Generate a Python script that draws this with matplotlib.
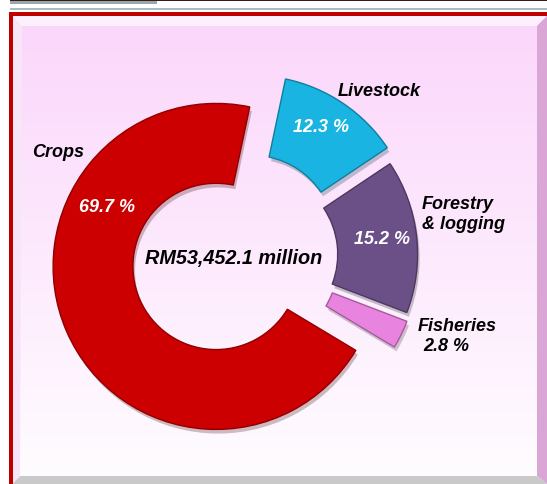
import matplotlib
matplotlib.use("Agg")
import matplotlib.pyplot as plt
import matplotlib.patheffects as pe
from matplotlib.patches import Rectangle, Polygon
import numpy as np

# data
sectors = ["Crops", "Livestock", "Forestry\n& logging", "Fisheries"]
shares = [69.7, 12.3, 15.2, 2.8]
share_labels = ["69.7 %", "12.3 %", "15.2 %", "2.8 %"]
colors = ["#cc0000", "#19b4e2", "#6b5088", "#e884df"]
explode = [0.16, 0.13, 0.09, 0.10]
total_label = "RM53,452.1 million"

W, H = 547, 485
fig = plt.figure(figsize=(W / 100, H / 100), dpi=100)
fig.patch.set_facecolor("white")

# background axes in pixel units
bg = fig.add_axes([0, 0, 1, 1], zorder=0)
bg.set_xlim(0, W)
bg.set_ylim(H, 0)
bg.axis("off")

# header strip
bg.add_patch(Rectangle((10, 0), W - 10, 2, color="#3a1a1a", lw=0))
bg.add_patch(Rectangle((10, 2), 147, 3, color="#9aa8ac", lw=0))
bg.add_patch(Rectangle((10, 8.5), W - 10, 2.5, color="#a9bcc2", lw=0))

# pink panel with vertical gradient
grad = np.linspace(0, 1, 256)[:, None]
top = np.array([251, 214, 251]) / 255
bot = np.array([255, 253, 255]) / 255
img = top[None, None, :] * (1 - grad[..., None]) + bot[None, None, :] * grad[..., None]
bg.imshow(img, extent=(12, W, H, 17), aspect="auto", zorder=0)

# bevels
bg.add_patch(Polygon([(12, 17), (W, 17), (W - 10, 27), (22, 27)], color="#fdf0fd", lw=0, zorder=1))
bg.add_patch(Polygon([(W, 17), (W, H), (W - 10, H - 8), (W - 10, 27)], color="#d9a6d6", lw=0, zorder=1))
bg.add_patch(Polygon([(12, H), (W, H), (W - 10, H - 8), (20, H - 8)], color="#c9c9c9", lw=0, zorder=1))
bg.add_patch(Polygon([(12, 17), (22, 27), (20, H - 8), (12, H)], color="#f7e6f7", lw=0, zorder=1))

# red frame
bg.add_patch(Rectangle((8.5, 12.5), 4, H - 12.5, color="#c00000", lw=0, zorder=2))
bg.add_patch(Rectangle((8.5, 12.5), W - 8.5, 4, color="#c00000", lw=0, zorder=2))

# donut axes centred at pixel (240, 257), radius 163 px
cx, cy, R, half = 240, 257, 163, 230
ax = fig.add_axes([(cx - half) / W, (H - cy - half) / H, 2 * half / W, 2 * half / H], zorder=1)

wedges, _ = ax.pie(
    shares, colors=colors, explode=explode, startangle=-31, counterclock=False,
    radius=1.0, wedgeprops=dict(width=0.49, linewidth=1.0),
)
ax.set_xlim(-half / R, half / R)
ax.set_ylim(-half / R, half / R)
ax.axis("off")
for w, c in zip(wedges, colors):
    rgb = np.array(matplotlib.colors.to_rgb(c))
    w.set_edgecolor(rgb * 0.7)
    w.set_path_effects([pe.SimplePatchShadow(offset=(1.5, -3), alpha=0.25), pe.Normal()])

# text overlay in pixel units
tx = fig.add_axes([0, 0, 1, 1], zorder=2)
tx.set_xlim(0, W)
tx.set_ylim(H, 0)
tx.axis("off")

font = "Liberation Sans"
kw = dict(family=font, weight="bold", style="italic")
blk = dict(fontsize=13, color="black", va="center", ha="left", **kw)
wht = dict(fontsize=13, color="white", va="center", ha="center", **kw)

tx.text(32, 153, sectors[0], **blk)
tx.text(338, 92, sectors[1], **blk)
for i, line in enumerate(sectors[2].split("\n")):
    tx.text(422, 205 + 20 * i, line, **blk)
tx.text(418, 327, sectors[3], **blk)
tx.text(423, 347, share_labels[3], **blk)

tx.text(107, 208, share_labels[0], **wht)
tx.text(321, 128, share_labels[1], **wht)
tx.text(382, 240, share_labels[2], **wht)

tx.text(234, 259, total_label, fontsize=14.3, color="black", va="center", ha="center", **kw)

fig.savefig("out.png", dpi=100)
